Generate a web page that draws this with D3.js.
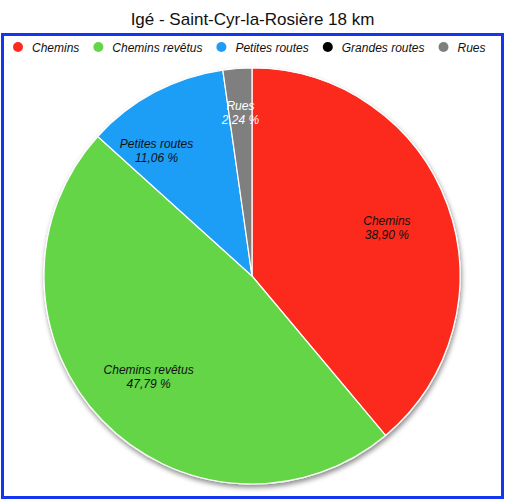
<!DOCTYPE html>
<html>
<head>
<meta charset="utf-8">
<script src="https://cdn.jsdelivr.net/npm/d3@7"></script>
<style>
    body { margin: 0; background: #fff; }
    svg { display: block; font-family: "Liberation Sans", Arial, sans-serif; }
</style>
</head>
<body>
<svg id="chart"></svg>
<script>
const title = "Igé - Saint-Cyr-la-Rosière 18 km";
const categories = ["Chemins", "Chemins revêtus", "Petites routes", "Grandes routes", "Rues"];
const percents = [38.90, 47.79, 11.06, 0, 2.24];
const colours = ["#fb2b1f", "#64d546", "#1f9df6", "#000000", "#7f7f7f"];

const width = 505,
    height = 500,
    cx = 252,
    cy = 276,
    radius = 208;

const svg = d3.select("#chart")
    .attr("width", width)
    .attr("height", height)
    .attr("viewBox", `0 0 ${width} ${height}`);

const defs = svg.append("defs");
defs.append("filter")
    .attr("id", "shadow")
    .attr("x", "-10%").attr("y", "-10%")
    .attr("width", "120%").attr("height", "120%")
    .append("feDropShadow")
    .attr("dx", 1)
    .attr("dy", 3)
    .attr("stdDeviation", 2.5)
    .attr("flood-color", "#000")
    .attr("flood-opacity", 0.45);

// title
svg.append("text")
    .attr("x", width / 2)
    .attr("y", 25)
    .attr("text-anchor", "middle")
    .style("font-size", "17px")
    .attr("fill", "#111")
    .text(title);

// blue frame
svg.append("rect")
    .attr("x", 2.5)
    .attr("y", 34.5)
    .attr("width", width - 5)
    .attr("height", height - 37)
    .attr("fill", "#fff")
    .attr("stroke", "#1436f0")
    .attr("stroke-width", 3);

// legend
const legend = svg.append("g").attr("class", "legend");
let lx = 18;
categories.forEach((name, i) => {
    legend.append("circle")
        .attr("cx", lx)
        .attr("cy", 47)
        .attr("r", 5)
        .attr("fill", colours[i]);
    const t = legend.append("text")
        .attr("x", lx + 14)
        .attr("y", 51.5)
        .style("font-size", "12px")
        .style("font-style", "italic")
        .attr("fill", "#111")
        .text(name);
    lx += 14 + t.node().getComputedTextLength() + 19;
});

// pie
const pie = d3.pie().sort(null).value(d => d.value),
    arcs = pie(categories.map((name, i) => ({ name: name, value: percents[i], colour: colours[i] })))
        .filter(a => a.data.value > 0);

const arc = d3.arc().innerRadius(0).outerRadius(radius);

const pieArea = svg.append("g")
    .attr("transform", `translate(${cx},${cy})`);

pieArea.append("g")
    .attr("filter", "url(#shadow)")
    .selectAll("path")
    .data(arcs)
    .enter()
    .append("path")
    .attr("d", arc)
    .attr("fill", d => d.data.colour)
    .attr("stroke", "#fff")
    .attr("stroke-width", 1.2);

// labels: pushed outwards for the small slices, and nudged away from the narrow neighbour
const labelPlace = d => {
    let angle = (d.startAngle + d.endAngle) / 2,
        r = radius * 0.69;
    const frac = (d.endAngle - d.startAngle) / (2 * Math.PI);
    if (frac < 0.05) r = radius * 0.79;
    else if (frac < 0.15) { r = radius * 0.76; angle -= 0.16; }
    return [r * Math.sin(angle), -r * Math.cos(angle)];
};

const labels = pieArea.append("g")
    .selectAll("text")
    .data(arcs)
    .enter()
    .append("text")
    .attr("transform", d => `translate(${labelPlace(d)})`)
    .attr("text-anchor", "middle")
    .style("font-size", "12px")
    .style("font-style", "italic")
    .attr("fill", d => d.data.name === "Rues" ? "#fff" : "#111");

labels.append("tspan")
    .attr("x", 0)
    .attr("y", -2)
    .text(d => d.data.name);

labels.append("tspan")
    .attr("x", 0)
    .attr("y", 12)
    .text(d => d.data.value.toFixed(2).replace(".", ",") + " %");
</script>
</body>
</html>
